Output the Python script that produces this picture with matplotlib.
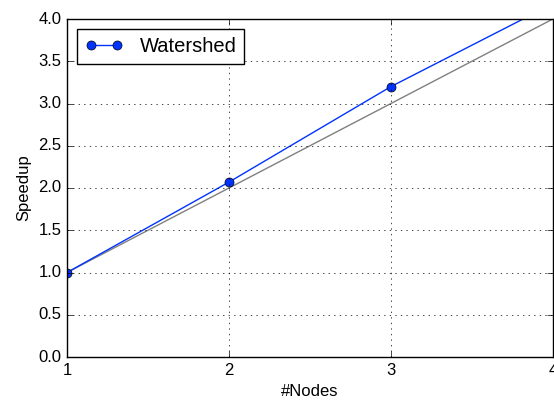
import numpy as np
import matplotlib
matplotlib.use("Agg")
import matplotlib.pyplot as plt

plt.style.use('classic')
plt.rcParams['font.family'] = ['Liberation Sans', 'DejaVu Sans']

nodes = [1, 2, 3, 4]
watershed = [1.0, 2.07, 3.2, 4.18]
ideal = [1, 2, 3, 4]

fig = plt.figure(figsize=(5.54, 4.0), dpi=100, facecolor='white')
ax = fig.add_axes([0.121, 0.1075, 0.877, 0.845])

ax.plot(nodes, ideal, color='gray', linewidth=1)
ax.plot(nodes, watershed, color='#0033ff', linewidth=1, marker='o',
        markersize=6.5, markerfacecolor='#0033ff', markeredgecolor='black',
        label='Watershed')

ax.set_xlim(1, 4)
ax.set_ylim(0, 4)
ax.set_xticks(nodes)
ax.set_yticks(np.arange(0, 4.01, 0.5))
ax.tick_params(labelsize=12)
ax.grid(True, color='black', linestyle=':')
ax.set_xlabel('#Nodes', fontsize=12)
ax.set_ylabel('Speedup', fontsize=12)
ax.legend(loc='upper left', fontsize=14.5, numpoints=2, fancybox=False,
          handlelength=1.9)

fig.savefig('out.png', dpi=100, facecolor='white')
